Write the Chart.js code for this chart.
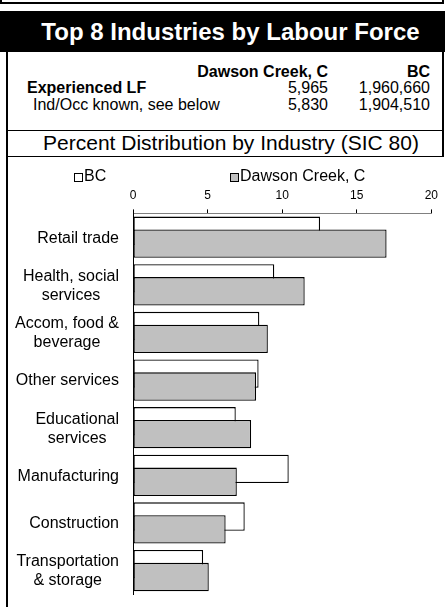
<!DOCTYPE html>
<html lang="en">
<head>
    <meta charset="UTF-8">
    <title>Top 8 Industries by Labour Force</title>
    <script src="https://cdn.jsdelivr.net/npm/chart.js"></script>

    <style>
        body {
            margin: 0;
            width: 445px;
            height: 607px;
            overflow: hidden;
            position: relative;
            font-family: "Liberation Sans", Arial, sans-serif;
            background: #fff;
        }

        .abs { position: absolute; }

        #prev {
            left: 0; top: -20px; width: 444px; height: 24px;
            box-sizing: border-box; border: 2px solid #000;
        }

        #header {
            left: 0; top: 11px; width: 445px; height: 41px;
            box-sizing: border-box; padding-left: 16px;
            background: #000; color: #fff;
            font-weight: bold; font-size: 24px; line-height: 41px;
            text-align: center; white-space: nowrap;
        }

        #frame {
            left: 6px; top: 52px; width: 2px; height: 600px; background: #000;
        }

        #table {
            left: 8px; top: 52px; width: 436px; height: 79px;
            box-sizing: border-box; border-right: 2px solid #000;
            border-bottom: 1.5px solid #000;
        }

        .cell { position: absolute; font-size: 16px; line-height: 17px; white-space: nowrap; }
        .r { text-align: right; }
        .b { font-weight: bold; }

        #subtitle {
            left: 8px; top: 131px; width: 436px; height: 26px;
            box-sizing: border-box; border-right: 2px solid #000;
            border-bottom: 1.5px solid #000; padding-left: 12px;
            font-size: 21px; line-height: 24px; text-align: center; white-space: nowrap;
        }

        #chartBox { left: 8px; top: 157px; width: 437px; height: 450px; }
    </style>
</head>
<body>

    <div id="prev" class="abs"></div>
    <div id="header" class="abs">Top 8 Industries by Labour Force</div>
    <div id="frame" class="abs"></div>

    <div id="table" class="abs">
        <div class="cell r b" style="right:114px; top:10.7px;">Dawson Creek, C</div>
        <div class="cell r b" style="right:12px; top:10.7px;">BC</div>
        <div class="cell b" style="left:19px; top:27.3px;">Experienced LF</div>
        <div class="cell r" style="right:114px; top:27.3px;">5,965</div>
        <div class="cell r" style="right:12px; top:27.3px;">1,960,660</div>
        <div class="cell" style="left:25px; top:44px;">Ind/Occ known, see below</div>
        <div class="cell r" style="right:114px; top:44px;">5,830</div>
        <div class="cell r" style="right:12px; top:44px;">1,904,510</div>
    </div>

    <div id="subtitle" class="abs">Percent Distribution by Industry (SIC 80)</div>

    <div id="chartBox" class="abs"><canvas id="chart" width="437" height="450"></canvas></div>

    <script>
        const industries = [
            'Retail trade',
            ['Health, social', 'services'],
            ['Accom, food &', 'beverage'],
            'Other services',
            ['Educational', 'services'],
            'Manufacturing',
            'Construction',
            ['Transportation', '& storage']
        ];
        const bcShare = [12.54, 9.47, 8.47, 8.42, 6.89, 10.44, 7.49, 4.70];
        const dawsonShare = [17.0, 11.51, 9.04, 8.25, 7.92, 6.96, 6.21, 5.08];
        const axisTicks = [0, 5, 10, 15, 20];

        Chart.defaults.font.family = '"Liberation Sans", Arial, sans-serif';
        Chart.defaults.color = '#000';

        // grey bars sit over the white ones, so paint BC first
        const dawsonOnTop = {
            id: 'dawsonOnTop',
            beforeDatasetsDraw(chart) {
                [0, 1].forEach(i => chart.getDatasetMeta(i).controller.draw());
                return false;
            }
        };

        // Excel style legend: small box, text right after it
        const legendRow = {
            id: 'legendRow',
            afterDraw(chart) {
                const ctx = chart.ctx;
                const boxLeft = [66, 222];
                ctx.save();
                ctx.font = '16px "Liberation Sans"';
                ctx.textBaseline = 'middle';
                chart.data.datasets.forEach((ds, i) => {
                    const x = boxLeft[i], y = 20;
                    ctx.fillStyle = ds.backgroundColor;
                    ctx.fillRect(x, y - 4, 8, 8);
                    ctx.strokeStyle = '#000';
                    ctx.lineWidth = 1;
                    ctx.strokeRect(x + 0.5, y - 3.5, 8, 8);
                    ctx.fillStyle = '#000';
                    ctx.fillText(ds.label, x + 10, y);
                });
                ctx.restore();
            }
        };

        // category labels: block right aligned, lines centred inside the block
        const blockLabels = {
            id: 'blockLabels',
            afterDraw(chart) {
                const scale = chart.scales.y, ctx = chart.ctx;
                ctx.save();
                ctx.font = '16px "Liberation Sans"';
                ctx.fillStyle = '#000';
                ctx.textAlign = 'center';
                ctx.textBaseline = 'middle';
                scale.getLabels().forEach((lab, i) => {
                    const lines = [].concat(lab);
                    const w = Math.max(...lines.map(s => ctx.measureText(s).width));
                    const cx = scale.right - 14 - w / 2;
                    const cy = scale.getPixelForTick(i) + 1;
                    lines.forEach((s, k) => ctx.fillText(s, cx, cy + (k - (lines.length - 1) / 2) * 19));
                });
                ctx.restore();
            }
        };

        new Chart(document.getElementById('chart'), {
            type: 'bar',
            data: {
                labels: industries,
                datasets: [{
                    label: 'BC',
                    data: bcShare,
                    backgroundColor: '#ffffff',
                    borderColor: '#000000',
                    borderWidth: 1.3,
                    borderSkipped: false
                }, {
                    label: 'Dawson Creek, C',
                    data: dawsonShare,
                    backgroundColor: '#c0c0c0',
                    borderColor: '#000000',
                    borderWidth: 1.3,
                    borderSkipped: false
                }]
            },
            options: {
                indexAxis: 'y',
                responsive: false,
                animation: false,
                devicePixelRatio: 1,
                categoryPercentage: 0.541,
                barPercentage: 2.2,
                layout: { padding: { top: 0, right: 7.5, bottom: 0, left: 0 } },
                plugins: {
                    legend: { display: false },
                    tooltip: { enabled: false }
                },
                scales: {
                    x: {
                        position: 'top',
                        min: axisTicks[0],
                        max: axisTicks[axisTicks.length - 1],
                        afterBuildTicks(s) { s.ticks = axisTicks.map(v => ({ value: v })); },
                        ticks: { font: { size: 12 }, color: '#000', padding: 7 },
                        grid: { drawOnChartArea: false, tickLength: 4, color: '#000' },
                        border: { color: '#808080' },
                        afterFit(s) { s.height = 56.4; }
                    },
                    y: {
                        ticks: { color: 'transparent', font: { size: 16 } },
                        grid: { drawOnChartArea: false, drawTicks: false },
                        border: { color: '#000' },
                        afterFit(s) { s.width = 125; }
                    }
                }
            },
            plugins: [dawsonOnTop, legendRow, blockLabels]
        });
    </script>

</body>
</html>
